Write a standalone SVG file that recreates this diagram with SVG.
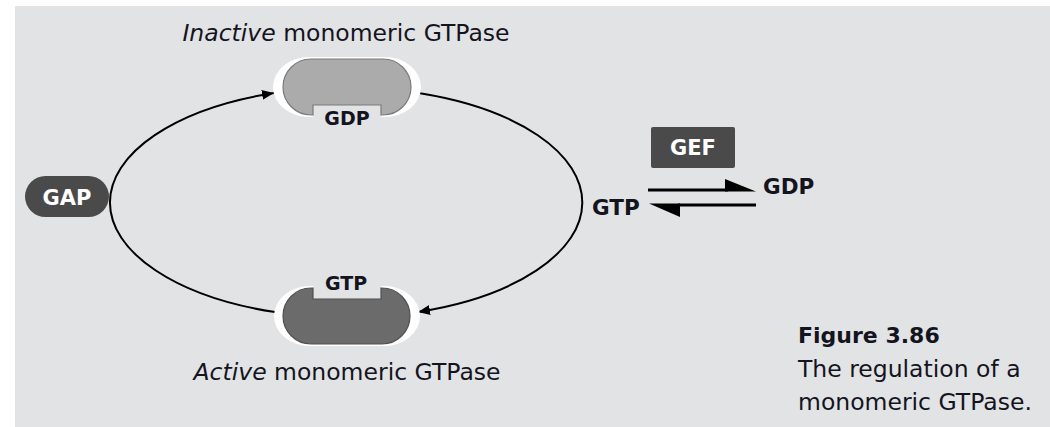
<svg xmlns="http://www.w3.org/2000/svg" width="1050" height="427" viewBox="0 0 1050 427">
  <style>
    .lbl { font-family: "DejaVu Sans", Verdana, sans-serif; fill: #14141e; }
    .reg { font-size: 23.5px; }
    .b { font-weight: bold; }
    .wht { fill: #ffffff; font-family: "DejaVu Sans", Verdana, sans-serif; font-weight: bold; }
    .conn { fill: none; stroke: #000; stroke-width: 2; }
    .dark { fill: #4a4a4a; }
    .bg { fill: #e2e3e5; }
  </style>
  <defs>
    <marker id="ah" markerUnits="userSpaceOnUse" markerWidth="13" markerHeight="11" refX="12" refY="5" orient="auto">
      <path d="M0,0 L12,5 L0,10 Z" fill="#000"/>
    </marker>
  </defs>
  <rect class="bg" x="15" y="6" width="1035" height="421"/>

  <g id="connectors">
    <path class="conn" d="M 275 312.1 A 236.5 115 0 0 1 274 93" marker-end="url(#ah)"/>
    <path class="conn" d="M 420 93.2 A 236.5 115 0 0 1 418 311.9" marker-end="url(#ah)"/>
    <g id="exchange">
      <line x1="648" y1="190" x2="728" y2="190" stroke="#000" stroke-width="3"/>
      <polygon points="725,179 756,191.5 725,191.5" fill="#000"/>
      <line x1="678" y1="205" x2="756" y2="205" stroke="#000" stroke-width="3"/>
      <polygon points="649,203.5 680,203.5 680,217" fill="#000"/>
    </g>
  </g>

  <g id="inactive">
    <rect x="273" y="57" width="148" height="60" rx="36" ry="30" fill="#fff"/>
    <rect class="bg" x="313" y="105" width="68" height="13"/>
    <path d="M 311 59 H 383 A 28 28 0 0 1 383 115 H 381 V 105 H 313 V 115 H 311 A 28 28 0 0 1 311 59 Z" fill="#ababab" stroke="#7a7a7a" stroke-width="1.2"/>
    <text class="lbl b" x="347" y="125" font-size="19" text-anchor="middle">GDP</text>
    <text class="lbl reg" x="346" y="41" text-anchor="middle"><tspan font-style="italic">Inactive</tspan> monomeric GTPase</text>
  </g>

  <g id="active">
    <rect x="274" y="286" width="146" height="60" rx="36" ry="30" fill="#fff"/>
    <rect class="bg" x="313" y="285" width="68" height="14"/>
    <path d="M 311 288 H 313 V 299 H 381 V 288 H 382 A 28 28 0 0 1 382 344 H 311 A 28 28 0 0 1 311 288 Z" fill="#6b6b6b" stroke="#505050" stroke-width="1.2"/>
    <text class="lbl b" x="346" y="290" font-size="19" text-anchor="middle">GTP</text>
    <text class="lbl reg" x="347" y="380" text-anchor="middle"><tspan font-style="italic">Active</tspan> monomeric GTPase</text>
  </g>

  <g id="gap">
    <rect class="dark" x="25" y="176" width="84" height="41" rx="20.5"/>
    <text class="wht" x="67" y="205" font-size="21" text-anchor="middle">GAP</text>
  </g>

  <g id="gef">
    <rect class="dark" x="651" y="127" width="84" height="41" rx="2"/>
    <text class="wht" x="693" y="155" font-size="21" text-anchor="middle">GEF</text>
  </g>

  <g id="gtp-free">
    <text class="lbl b" x="592" y="215" font-size="21.5">GTP</text>
  </g>
  <g id="gdp-free">
    <text class="lbl b" x="763" y="194" font-size="21.5">GDP</text>
  </g>

  <g id="caption">
    <text class="lbl b" x="798" y="343" font-size="22">Figure 3.86</text>
    <text class="lbl reg" x="798" y="377">The regulation of a</text>
    <text class="lbl reg" x="798" y="410">monomeric GTPase.</text>
  </g>
</svg>
